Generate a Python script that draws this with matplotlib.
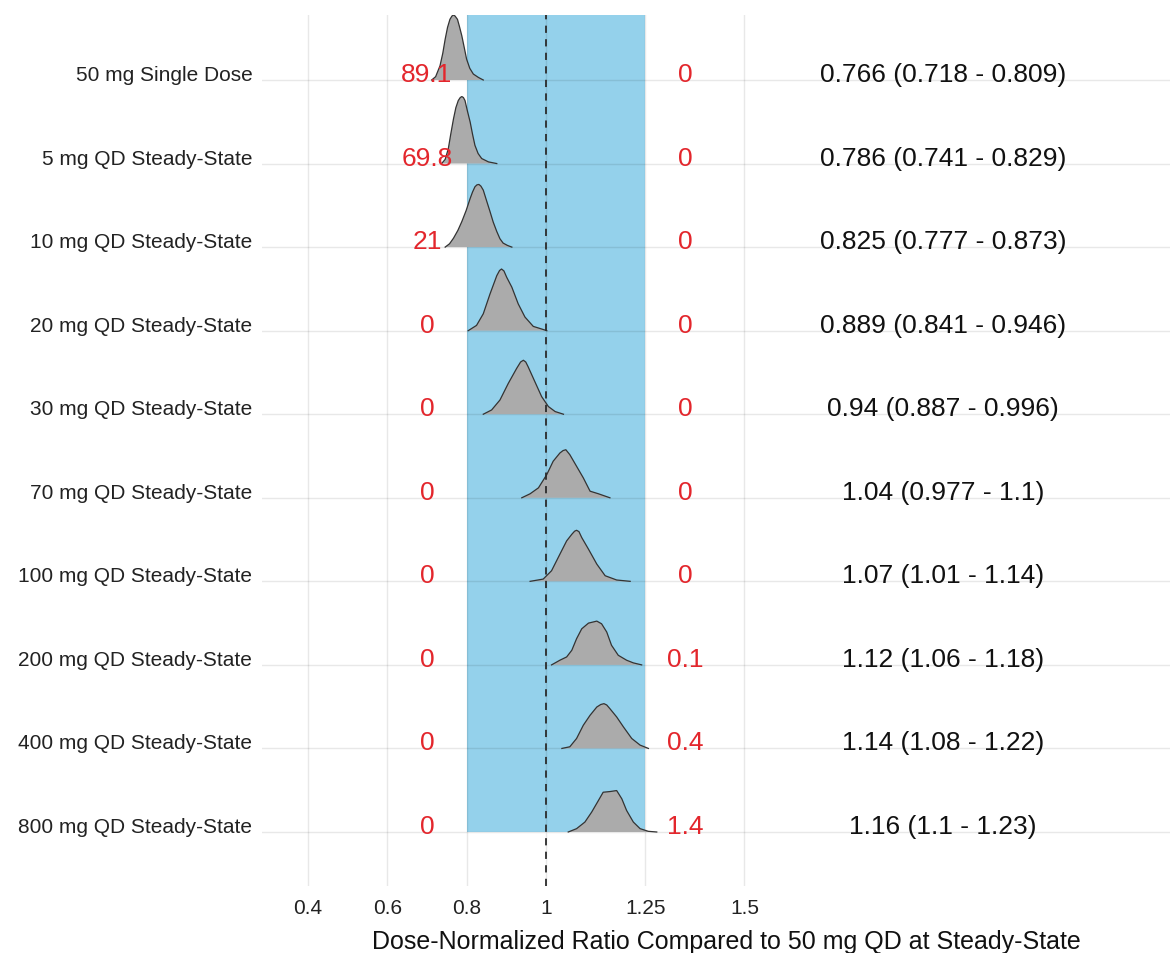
import matplotlib
matplotlib.use("Agg")
import matplotlib.pyplot as plt
from matplotlib.patches import Rectangle

plt.rcParams['font.family'] = ['Liberation Sans', 'DejaVu Sans']

# ---------------- data (top row first) ----------------
categories = ["50 mg Single Dose", "5 mg QD Steady-State", "10 mg QD Steady-State",
              "20 mg QD Steady-State", "30 mg QD Steady-State", "70 mg QD Steady-State",
              "100 mg QD Steady-State", "200 mg QD Steady-State", "400 mg QD Steady-State",
              "800 mg QD Steady-State"]
median = [0.766, 0.786, 0.825, 0.889, 0.94, 1.04, 1.07, 1.12, 1.14, 1.16]
ci_low = [0.718, 0.741, 0.777, 0.841, 0.887, 0.977, 1.01, 1.06, 1.08, 1.1]
ci_high = [0.809, 0.829, 0.873, 0.946, 0.996, 1.1, 1.14, 1.18, 1.22, 1.23]
pct_below = [89.1, 69.8, 21, 0, 0, 0, 0, 0, 0, 0]
pct_above = [0, 0, 0, 0, 0, 0, 0, 0.1, 0.4, 1.4]

# density profiles (x = ratio, h = height in row units)
dens_x = [
    [0.712, 0.722, 0.733, 0.740, 0.746, 0.752, 0.758, 0.763, 0.767, 0.771, 0.777, 0.782,
     0.788, 0.794, 0.800, 0.808, 0.817, 0.830, 0.842],
    [0.737, 0.746, 0.754, 0.760, 0.767, 0.773, 0.779, 0.784, 0.788, 0.792, 0.796, 0.802,
     0.809, 0.815, 0.821, 0.829, 0.838, 0.855, 0.876],
    [0.746, 0.757, 0.767, 0.778, 0.788, 0.799, 0.809, 0.815, 0.821, 0.826, 0.831, 0.836,
     0.842, 0.850, 0.859, 0.867, 0.876, 0.884, 0.892, 0.903, 0.914],
    [0.804, 0.825, 0.842, 0.859, 0.876, 0.883, 0.888, 0.894, 0.901, 0.914, 0.930, 0.947,
     0.968, 0.989, 1.002],
    [0.842, 0.863, 0.884, 0.905, 0.926, 0.936, 0.943, 0.949, 0.955, 0.972, 0.989, 1.006,
     1.023, 1.044],
    [0.939, 0.960, 0.981, 1.002, 1.018, 1.035, 1.043, 1.050, 1.060, 1.077, 1.094, 1.111,
     1.132, 1.161],
    [0.960, 0.993, 1.014, 1.035, 1.052, 1.065, 1.072, 1.077, 1.083, 1.090, 1.107, 1.128,
     1.149, 1.178, 1.212],
    [1.014, 1.035, 1.052, 1.065, 1.077, 1.090, 1.107, 1.128, 1.140, 1.153, 1.165, 1.182,
     1.203, 1.220, 1.241],
    [1.040, 1.060, 1.077, 1.094, 1.111, 1.128, 1.138, 1.146, 1.153, 1.161, 1.178, 1.195,
     1.216, 1.237, 1.258],
    [1.056, 1.077, 1.098, 1.115, 1.132, 1.144, 1.161, 1.178, 1.191, 1.203, 1.220, 1.237,
     1.258, 1.279],
]
dens_h = [
    [0.0, 0.04, 0.17, 0.32, 0.488, 0.63, 0.726, 0.765, 0.778, 0.765, 0.726, 0.64,
     0.528, 0.39, 0.25, 0.14, 0.071, 0.03, 0.0],
    [0.0, 0.05, 0.179, 0.35, 0.536, 0.67, 0.754, 0.79, 0.802, 0.79, 0.754, 0.63,
     0.496, 0.35, 0.218, 0.12, 0.06, 0.02, 0.0],
    [0.0, 0.04, 0.107, 0.2, 0.306, 0.44, 0.583, 0.66, 0.722, 0.745, 0.75, 0.73,
     0.682, 0.56, 0.425, 0.30, 0.187, 0.10, 0.048, 0.02, 0.0],
    [0.0, 0.063, 0.202, 0.44, 0.658, 0.72, 0.738, 0.715, 0.639, 0.52, 0.321, 0.163,
     0.051, 0.02, 0.0],
    [0.0, 0.051, 0.170, 0.369, 0.548, 0.625, 0.646, 0.625, 0.568, 0.389, 0.211, 0.092,
     0.032, 0.0],
    [0.0, 0.048, 0.119, 0.278, 0.437, 0.536, 0.565, 0.575, 0.516, 0.377, 0.238, 0.079,
     0.048, 0.0],
    [0.0, 0.027, 0.127, 0.325, 0.484, 0.563, 0.60, 0.611, 0.595, 0.524, 0.385, 0.206,
     0.067, 0.016, 0.0],
    [0.0, 0.056, 0.095, 0.175, 0.313, 0.432, 0.5, 0.524, 0.492, 0.393, 0.235, 0.115,
     0.056, 0.024, 0.0],
    [0.0, 0.02, 0.119, 0.278, 0.397, 0.496, 0.526, 0.536, 0.52, 0.476, 0.377, 0.258,
     0.119, 0.04, 0.0],
    [0.0, 0.04, 0.119, 0.238, 0.377, 0.476, 0.484, 0.496, 0.397, 0.258, 0.119, 0.04,
     0.008, 0.0],
]

x_ticks = [0.4, 0.6, 0.8, 1, 1.25, 1.5]
x_tick_labels = ["0.4", "0.6", "0.8", "1", "1.25", "1.5"]
band_low, band_high = 0.8, 1.25
x_label = "Dose-Normalized Ratio Compared to 50 mg QD at Steady-State"

# ---------------- figure ----------------
W, H = 1170, 954
fig = plt.figure(figsize=(W / 100, H / 100), dpi=100)
left_px, right_px, top_px, bot_px = 262, 1190, 16, 887
ax = fig.add_axes([left_px / W, (H - bot_px) / H, (right_px - left_px) / W, (bot_px - top_px) / H])

# pixel -> data calibration
x0_px, x_scale = 149.0, 397.0
ax.set_xlim((left_px - x0_px) / x_scale, (right_px - x0_px) / x_scale)
y_scale = (833 - 81) / 9.0
ax.set_ylim(1 - (bot_px - 833) / y_scale, 10 + (81 - top_px) / y_scale)
ymin, ymax = ax.get_ylim()

n = len(categories)
rows = [n - i for i in range(n)]

# band
ax.add_patch(Rectangle((band_low, 1), band_high - band_low, ymax - 1 + 1,
                       facecolor="#94D1EB", edgecolor="none", zorder=1))

# gridlines
for r in rows:
    ax.axhline(r, color="black", alpha=0.09, lw=1.0, zorder=2)
for xt in x_ticks:
    ax.axvline(xt, color="black", alpha=0.09, lw=1.0, zorder=2)

# densities
for r, xs, hs in zip(rows, dens_x, dens_h):
    top = [r + h for h in hs]
    ax.fill_between(xs, r, top, facecolor="#ABABAB", edgecolor="none", zorder=3)
    ax.plot(xs, top, color="#333333", lw=0.9, zorder=4, solid_joinstyle="round")

# reference line
ax.axvline(1, color="#2b2b2b", lw=1.3, linestyle=(0, (4, 3.5)), zorder=5)

# texts
red = "#E3262C"
for r, pb, pa, m, lo, hi in zip(rows, pct_below, pct_above, median, ci_low, ci_high):
    ax.text(0.7, r - 0.012, f"{pb:g}", color=red, fontsize=19, ha="center", va="baseline", zorder=6)
    ax.text(1.35, r - 0.012, f"{pa:g}", color=red, fontsize=19, ha="center", va="baseline", zorder=6)
    ax.text(2.0, r - 0.012, f"{m:g} ({lo:g} - {hi:g})", color="#111111", fontsize=19,
            ha="center", va="baseline", zorder=6)

ax.set_yticks(rows)
ax.set_yticklabels(categories, fontsize=15, color="#222222")
for lab in ax.get_yticklabels():
    lab.set_va("baseline")
ax.set_xticks(x_ticks)
ax.set_xticklabels(x_tick_labels, fontsize=15, color="#222222")
ax.tick_params(axis="both", length=0)
ax.tick_params(axis="y", pad=7)
ax.tick_params(axis="x", pad=9)
ax.set_xlabel(x_label, fontsize=18, color="#111111", labelpad=8)
for s in ax.spines.values():
    s.set_visible(False)
ax.set_facecolor("white")

fig.savefig("out.png", dpi=100)
